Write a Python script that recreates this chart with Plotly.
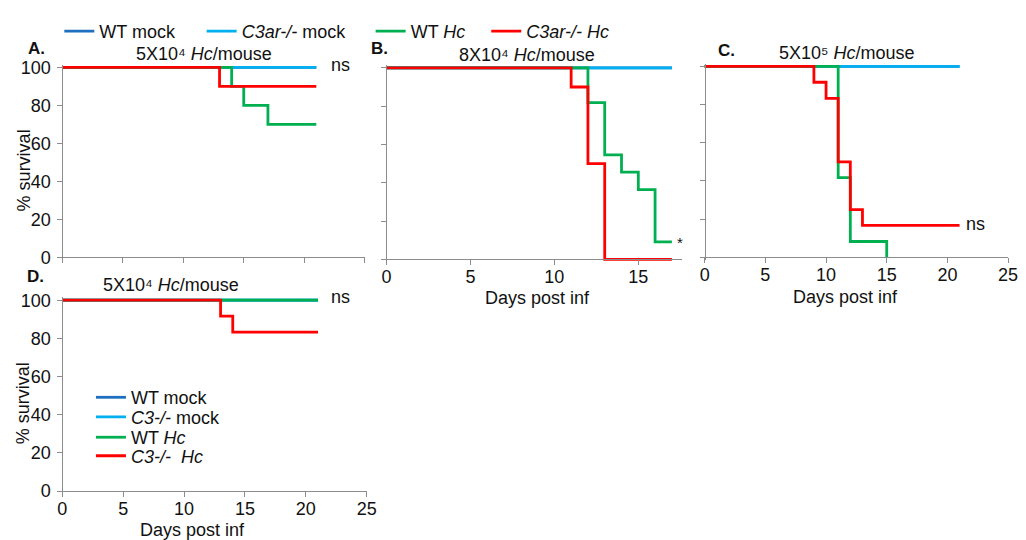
import plotly.graph_objects as go

W, H = 1026, 540

# ---------------- data (days post infection, % survival) ----------------
# Panel A: 5X10^4 Hc/mouse, WT vs C3ar-/-
a_wt_mock_t = [0, 21];            a_wt_mock_s = [100, 100]
a_ko_mock_t = [0, 21];            a_ko_mock_s = [100, 100]
a_wt_hc_t = [0, 14, 15, 17, 21];  a_wt_hc_s = [100, 90, 80, 70, 70]
a_ko_hc_t = [0, 13, 21];          a_ko_hc_s = [100, 90, 90]

# Panel B: 8X10^4 Hc/mouse
b_wt_mock_t = [0, 17];            b_wt_mock_s = [100, 100]
b_ko_mock_t = [0, 17];            b_ko_mock_s = [100, 100]
b_wt_hc_t = [0, 12, 13, 14, 15, 16, 17]
b_wt_hc_s = [100, 81.8, 54.5, 45.5, 36.4, 9.1, 9.1]
b_ko_hc_t = [0, 11, 12, 13, 17];  b_ko_hc_s = [100, 90, 50, 0, 0]

# Panel C: 5X10^5 Hc/mouse
c_wt_mock_t = [0, 21];            c_wt_mock_s = [100, 100]
c_ko_mock_t = [0, 21];            c_ko_mock_s = [100, 100]
c_wt_hc_t = [0, 11, 12, 15];      c_wt_hc_s = [100, 41.7, 8.3, 0]
c_ko_hc_t = [0, 9, 10, 11, 12, 13, 21]
c_ko_hc_s = [100, 91.7, 83.3, 50, 25, 16.7, 16.7]

# Panel D: 5X10^4 Hc/mouse, WT vs C3-/-
d_wt_mock_t = [0, 21];            d_wt_mock_s = [100, 100]
d_ko_mock_t = [0, 21];            d_ko_mock_s = [100, 100]
d_wt_hc_t = [0, 21];              d_wt_hc_s = [100, 100]
d_ko_hc_t = [0, 13, 14, 21];      d_ko_hc_s = [100, 91.7, 83.3, 83.3]

x_ticks = [0, 5, 10, 15, 20, 25]
b_x_ticks = [0, 5, 10, 15]
y_ticks = [0, 20, 40, 60, 80, 100]

names_top = ["WT mock", "<i>C3ar-/-</i> mock", "WT <i>Hc</i>", "<i>C3ar-/- Hc</i>"]
names_d = ["WT mock", "<i>C3-/-</i> mock", "WT <i>Hc</i>", "<i>C3-/-</i>  <i>Hc</i>"]
colors = ["#1F6FC0", "#00B0F0", "#00B050", "#FF0000"]

FONT = "Liberation Sans, Arial, Helvetica, sans-serif"
AX = "#8C8C8C"
TXT = "#111111"

fig = go.Figure()

panels = [
    ("x", "y", [(a_wt_mock_t, a_wt_mock_s), (a_ko_mock_t, a_ko_mock_s),
                (a_wt_hc_t, a_wt_hc_s), (a_ko_hc_t, a_ko_hc_s)], names_top,
     ["legend", "legend2", "legend3", "legend4"]),
    ("x2", "y2", [(b_wt_mock_t, b_wt_mock_s), (b_ko_mock_t, b_ko_mock_s),
                  (b_wt_hc_t, b_wt_hc_s), (b_ko_hc_t, b_ko_hc_s)], names_top, None),
    ("x3", "y3", [(c_wt_mock_t, c_wt_mock_s), (c_ko_mock_t, c_ko_mock_s),
                  (c_wt_hc_t, c_wt_hc_s), (c_ko_hc_t, c_ko_hc_s)], names_top, None),
    ("x4", "y4", [(d_wt_mock_t, d_wt_mock_s), (d_ko_mock_t, d_ko_mock_s),
                  (d_wt_hc_t, d_wt_hc_s), (d_ko_hc_t, d_ko_hc_s)], names_d,
     ["legend5", "legend6", "legend7", "legend8"]),
]

for xa, ya, series, names, legs in panels:
    for i, ((t, s), nm, col) in enumerate(zip(series, names, colors)):
        kw = dict(x=t, y=s, xaxis=xa, yaxis=ya, mode="lines", name=nm,
                  line=dict(color=col, width=2.8, shape="hv"),
                  showlegend=legs is not None, hoverinfo="skip")
        if legs is not None:
            kw["legend"] = legs[i]
        fig.add_trace(go.Scatter(**kw))

# ---------------- layout geometry (pixel positions of the axes) ----------------
geom = {
    # key: (x px of day 0, x px of xmax, xmax, y px of 0 %, y px of 100 %)
    "1": (61, 367, 25, 257, 62),
    "2": (389, 688, 17.6, 259, 62.5),
    "3": (711, 1018, 25, 257, 61),
    "4": (61, 369, 25, 497, 301),
}
XLO = -0.25
YLO, YHI = -1.5, 101.5

layout = dict(
    width=W, height=H, margin=dict(l=0, r=0, t=0, b=0),
    paper_bgcolor="white", plot_bgcolor="white",
    font=dict(family=FONT, size=18, color=TXT),
)

tick_cfg = {
    "1": (x_ticks, False, True),
    "2": (b_x_ticks, True, False),
    "3": (x_ticks, True, False),
    "4": (x_ticks, True, True),
}

for k, (x0, x1, xmax, y0, y100) in geom.items():
    ppx = (x1 - x0) / xmax
    ppy = (y0 - y100) / 100.0
    left = x0 + XLO * ppx
    bottom = y0 - YLO * ppy
    top = y100 - (YHI - 100) * ppy
    xt, show_x, show_y = tick_cfg[k]
    suffix = "" if k == "1" else k
    layout["xaxis" + suffix] = dict(
        domain=[left / W, x1 / W], range=[XLO, xmax],
        anchor="free", position=1 - y0 / H,
        showline=True, linecolor=AX, linewidth=1,
        ticks="outside", ticklen=5, tickcolor=AX, tickwidth=1,
        tickvals=xt, showticklabels=show_x, showgrid=False, zeroline=False,
        tickfont=dict(size=18, color=TXT), ticklabelstandoff=-4,
    )
    layout["yaxis" + suffix] = dict(
        domain=[1 - bottom / H, 1 - top / H], range=[YLO, YHI],
        anchor="free", position=x0 / W,
        showline=True, linecolor=AX, linewidth=1,
        ticks="outside", ticklen=5, tickcolor=AX, tickwidth=1,
        tickvals=y_ticks, showticklabels=show_y, showgrid=False, zeroline=False,
        tickfont=dict(size=18, color=TXT), ticklabelstandoff=3,
    )

# one legend per entry so each entry sits where the reference has it
LEG_TOP_OFFSET = 15  # px from legend top to first row centre
top_entries = [(58, 21), (202, 21), (373, 21), (490, 21)]  # (legend x px, row centre px)
d_entries = [(90, 397), (90, 417), (90, 438), (90, 457)]
leg_keys = ["legend", "legend2", "legend3", "legend4",
            "legend5", "legend6", "legend7", "legend8"]
for key, (lx, cy) in zip(leg_keys, top_entries + d_entries):
    layout[key] = dict(
        orientation="v", x=lx / W, y=1 - (cy - LEG_TOP_OFFSET) / H,
        xanchor="left", yanchor="top", bgcolor="rgba(0,0,0,0)",
        font=dict(size=18, family=FONT, color=TXT),
    )


def ann(text, px, py, size=18, bold=False, xanchor="center", angle=0):
    return dict(text=("<b>%s</b>" % text) if bold else text,
                x=px / W, y=1 - py / H, xref="paper", yref="paper",
                xanchor=xanchor, yanchor="middle", showarrow=False,
                textangle=angle, font=dict(size=size, family=FONT, color=TXT))


annotations = [
    ann("A.", 35, 43, 17, True),
    ann("B.", 382, 43, 17, True),
    ann("C.", 733, 45, 17, True),
    ann("D.", 34, 277, 17, True),
    ann("5X10⁴ <i>Hc</i>/mouse", 204, 48),
    ann("8X10⁴ <i>Hc</i>/mouse", 531, 49),
    ann("5X10⁵ <i>Hc</i>/mouse", 855, 47),
    ann("5X10⁴ <i>Hc</i>/mouse", 171, 285),
    ann("ns", 343, 60),
    ann("ns", 985, 223),
    ann("ns", 343, 298),
    ann("*", 686, 242, 15),
    ann("Days post inf", 542, 299),
    ann("Days post inf", 853, 298),
    ann("Days post inf", 193, 537),
    ann("% survival", 22, 168, 18, angle=-90),
    ann("% survival", 22, 407, 18, angle=-90),
]
layout["annotations"] = annotations

fig.update_layout(**layout)
fig.write_html("out.html")
